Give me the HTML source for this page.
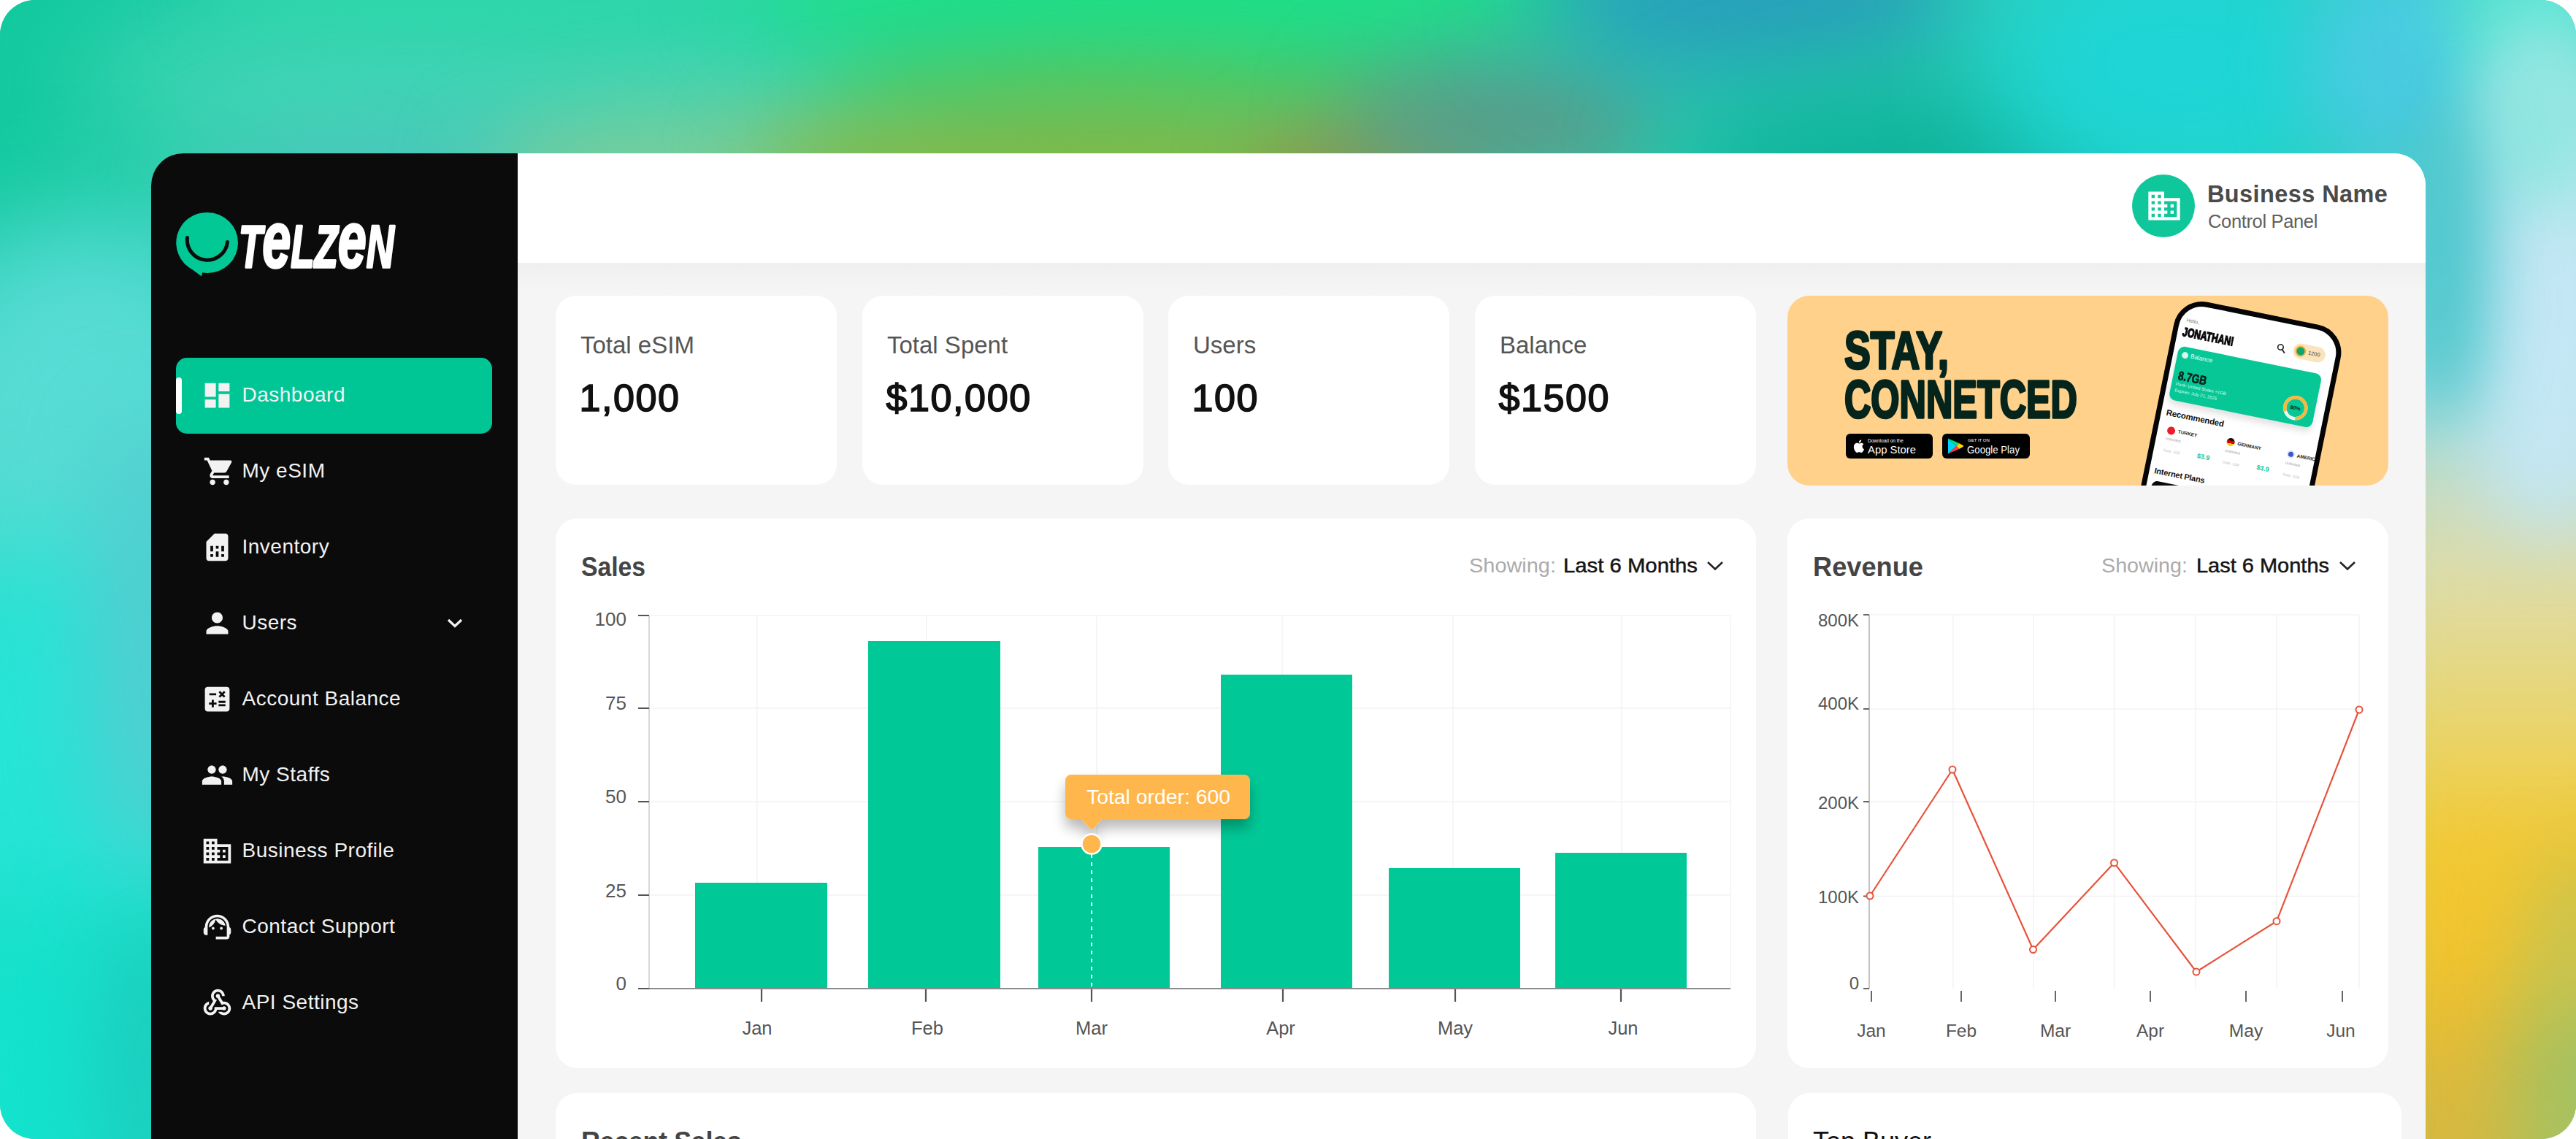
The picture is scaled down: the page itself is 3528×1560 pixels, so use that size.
<!DOCTYPE html>
<html lang="en">
<head>
<meta charset="utf-8">
<title>Telzen Dashboard</title>
<style>
*{box-sizing:border-box;margin:0;padding:0}
html,body{width:3528px;height:1560px;background:#fff;overflow:hidden}
body{font-family:"Liberation Sans",sans-serif;position:relative}
.abs{position:absolute}
/* ---------- mesh background ---------- */
#bg{position:absolute;left:0;top:0;width:3528px;height:1560px;border-radius:48px;overflow:hidden;background:#2fd0b4}
#bg i{position:absolute;display:block;border-radius:50%;filter:blur(90px)}
/* ---------- app window ---------- */
#app{position:absolute;left:207px;top:210px;width:3115px;height:1350px;border-radius:44px 44px 0 0;overflow:hidden;background:#f5f5f5}
#pg{position:absolute;left:-207px;top:-210px;width:3528px;height:1560px}
#side{position:absolute;left:207px;top:210px;width:502px;height:1350px;background:#0b0b0b}
#head{position:absolute;left:709px;top:210px;width:2613px;height:150px;background:#fff}
#headsh{position:absolute;left:709px;top:360px;width:2613px;height:40px;background:linear-gradient(#efefef,#f5f5f5)}
.card{position:absolute;background:#fff;border-radius:30px}
/* ---------- sidebar ---------- */
.nav{position:absolute;left:331.500px;font-size:28px;line-height:40px;color:#f2f2f2;white-space:nowrap;letter-spacing:.5px}
.ico{position:absolute;left:275px;width:45px;height:45px;fill:#f2f2f2}
#active{position:absolute;left:241px;top:490px;width:433px;height:104px;border-radius:15px;background:#00c696}
#active b{position:absolute;left:0;top:27px;width:8px;height:50px;border-radius:4px;background:#fff}
/* ---------- stat cards ---------- */
.stat{top:405px;width:385px;height:259px;border-radius:28px}
.stat .l{position:absolute;left:34px;top:47.500px;font-size:33px;line-height:40px;color:#555;letter-spacing:0;white-space:nowrap}
.stat .v{position:absolute;left:32.500px;top:109.500px;font-size:52px;line-height:60px;font-weight:400;color:#111;white-space:nowrap;letter-spacing:1.600px;-webkit-text-stroke:1.700px #111}
#phone{position:absolute;left:537px;top:1px;width:233px;height:420px;border:7px solid #050505;border-radius:39px;background:#fff;transform-origin:0 0;transform:rotate(11.500deg);overflow:hidden}
#phone *{position:absolute;white-space:nowrap}
/* ---------- chart cards ---------- */
.ttl{position:absolute;font-size:36px;line-height:44px;font-weight:700;color:#444;white-space:nowrap}
.show{position:absolute;font-size:28px;line-height:36px;white-space:nowrap;color:#111;letter-spacing:.4px}
.show span{color:#aaa}
svg text{font-family:"Liberation Sans",sans-serif}
</style>
</head>
<body>
<div id="bg">
<i style="left:-380px;top:-280px;width:760px;height:640px;background:#12c99e;filter:blur(80px)"></i>
<i style="left:100px;top:-40px;width:1200px;height:320px;background:#3fd5b4;filter:blur(80px)"></i>
<i style="left:280px;top:-70px;width:1040px;height:120px;background:#2cd6a8;filter:blur(45px)"></i>
<i style="left:260px;top:170px;width:600px;height:180px;background:#4cc6bc;filter:blur(60px)"></i>
<i style="left:-130px;top:300px;width:500px;height:600px;background:#58dcd5;filter:blur(80px)"></i>
<i style="left:-170px;top:740px;width:520px;height:600px;background:#27e5d6;filter:blur(80px)"></i>
<i style="left:-200px;top:1220px;width:520px;height:520px;background:#14e2cc;filter:blur(80px)"></i>
<i style="left:120px;top:560px;width:180px;height:640px;background:#52cdd0;filter:blur(60px)"></i>
<i style="left:130px;top:1260px;width:150px;height:400px;background:#1ccebe;filter:blur(50px)"></i>
<i style="left:660px;top:155px;width:680px;height:170px;background:#80cc98;filter:blur(60px)"></i>
<i style="left:1020px;top:-120px;width:1200px;height:220px;background:#1ee083;filter:blur(70px)"></i>
<i style="left:1120px;top:65px;width:860px;height:110px;background:#3ccf6a;filter:blur(50px)"></i>
<i style="left:1030px;top:130px;width:940px;height:210px;background:#82b844;filter:blur(60px)"></i>
<i style="left:1710px;top:170px;width:340px;height:140px;background:#8c9850;filter:blur(50px)"></i>
<i style="left:1840px;top:80px;width:440px;height:180px;background:#5a9c88;filter:blur(60px)"></i>
<i style="left:2100px;top:-130px;width:600px;height:240px;background:#289fba;filter:blur(70px)"></i>
<i style="left:2290px;top:110px;width:660px;height:240px;background:#0fb29a;filter:blur(70px)"></i>
<i style="left:2720px;top:-100px;width:520px;height:380px;background:#1fd5d5;filter:blur(70px)"></i>
<i style="left:3160px;top:-70px;width:260px;height:320px;background:#48cbe2;filter:blur(50px)"></i>
<i style="left:3360px;top:-100px;width:240px;height:240px;background:#62e6d6;filter:blur(50px)"></i>
<i style="left:3240px;top:230px;width:400px;height:1500px;border-radius:0;filter:blur(45px);background:linear-gradient(#52ccd4 0,#6fd2d6 180px,#a9dcd8 330px,#cfdcbc 470px,#dedca8 560px,#e9d56e 760px,#f2c832 930px,#f1c42f 1080px,#dfba3a 1230px,#d2b844 1400px)"></i>
<i style="left:3360px;top:70px;width:260px;height:660px;background:#c4e7f4;filter:blur(50px)"></i>
<i style="left:3400px;top:50px;width:160px;height:240px;background:#8fe6e0;filter:blur(45px)"></i>
<i style="left:3285px;top:140px;width:120px;height:440px;background:#4cc6cc;filter:blur(45px)"></i>
<i style="left:3440px;top:1300px;width:240px;height:400px;background:#a4c262;filter:blur(55px)"></i>
<i style="left:3470px;top:1160px;width:120px;height:240px;background:#c8c450;filter:blur(50px)"></i>
</div>
<div id="app"><div id="pg">
  <div id="side"></div>
  <div id="head"></div>
  <div id="headsh"></div>
  <svg class="abs" style="left:230px;top:280px" width="330" height="110" viewBox="230 280 330 110">
<path d="M284.500 291a41.500 41.500 0 0 1 0 83c-2.500 0-5-.2-7.400-.7l-1 5.200-13-9.500a41.500 41.500 0 0 1 21.400-78z" fill="#02c896"/>
<path d="M256.500 325.500a27.500 27.500 0 0 0 55 6" fill="none" stroke="#0b0b0b" stroke-width="5" stroke-linecap="round"/>
<text x="327" y="366" fill="#fff" font-weight="700" font-style="italic" textLength="213" lengthAdjust="spacingAndGlyphs" stroke="#fff" stroke-width="3.400" stroke-linejoin="round" font-size="82"><tspan>T</tspan><tspan font-size="109">e</tspan><tspan>LZ</tspan><tspan font-size="109">e</tspan><tspan>N</tspan></text>
</svg>
<div id="active"><b></b></div>
<svg class="ico" style="top:519px" viewBox="0 0 24 24"><path fill-rule="evenodd" d="M3 13h8V3H3v10zm0 8h8v-6H3v6zm10 0h8V11h-8v10zm0-18v6h8V3h-8z"/></svg>
<div class="nav" style="top:521px">Dashboard</div>
<svg class="ico" style="top:623px;left:277.500px" viewBox="0 0 24 24"><path fill-rule="evenodd" d="M7 18c-1.1 0-1.99.9-1.99 2S5.9 22 7 22s2-.9 2-2-.9-2-2-2zM1 2v2h2l3.6 7.59-1.35 2.45c-.16.28-.25.61-.25.96 0 1.1.9 2 2 2h12v-2H7.42c-.14 0-.25-.11-.25-.25l.03-.12.9-1.63h7.45c.75 0 1.41-.41 1.75-1.03l3.58-6.49c.08-.14.12-.31.12-.48 0-.55-.45-1-1-1H5.21l-.94-2H1zm16 16c-1.1 0-1.99.9-1.99 2s.89 2 1.99 2 2-.9 2-2-.9-2-2-2z"/></svg>
<div class="nav" style="top:625px">My eSIM</div>
<svg class="ico" style="top:727px" viewBox="0 0 24 24"><path fill-rule="evenodd" d="M19.99 4c0-1.1-.89-2-1.99-2h-8L4 8v12c0 1.1.9 2 2 2h12.01c1.1 0 1.99-.9 1.99-2l-.01-16zM9 19H7v-2h2v2zm8 0h-2v-2h2v2zm-8-4H7v-4h2v4zm4 4h-2v-4h2v4zm0-6h-2v-2h2v2zm4 2h-2v-4h2v4z"/></svg>
<div class="nav" style="top:729px">Inventory</div>
<svg class="ico" style="top:831px" viewBox="0 0 24 24"><path fill-rule="evenodd" d="M12 12c2.21 0 4-1.79 4-4s-1.79-4-4-4-4 1.79-4 4 1.79 4 4 4zm0 2c-2.67 0-8 1.34-8 4v2h16v-2c0-2.66-5.33-4-8-4z"/></svg>
<div class="nav" style="top:833px">Users</div>
<svg class="ico" style="top:935px" viewBox="0 0 24 24"><path fill-rule="evenodd" d="M19 3H5c-1.1 0-2 .9-2 2v14c0 1.1.9 2 2 2h14c1.1 0 2-.9 2-2V5c0-1.1-.9-2-2-2zm-5.97 4.06L14.09 6l1.41 1.41L16.91 6l1.06 1.06-1.41 1.41 1.41 1.41-1.06 1.06-1.41-1.4-1.41 1.41-1.06-1.06 1.41-1.41-1.41-1.42zm-6.78.66h5v1.5h-5v-1.5zM11.5 16h-2v2H8v-2H6v-1.5h2v-2h1.5v2h2V16zm6.500 1.25h-5v-1.5h5v1.500zm0-2.5h-5v-1.5h5v1.5z"/></svg>
<div class="nav" style="top:937px">Account Balance</div>
<svg class="ico" style="top:1039px" viewBox="0 0 24 24"><path fill-rule="evenodd" d="M16 11c1.660 0 2.990-1.340 2.990-3S17.660 5 16 5c-1.660 0-3 1.340-3 3s1.340 3 3 3zm-8 0c1.660 0 2.990-1.340 2.990-3S9.660 5 8 5C6.340 5 5 6.340 5 8s1.340 3 3 3zm0 2c-2.330 0-7 1.170-7 3.500V19h14v-2.500c0-2.330-4.670-3.500-7-3.500zm8 0c-.290 0-.620.020-.970.050 1.160.840 1.970 1.970 1.970 3.450V19h6v-2.500c0-2.330-4.670-3.500-7-3.500z"/></svg>
<div class="nav" style="top:1041px">My Staffs</div>
<svg class="ico" style="top:1143px" viewBox="0 0 24 24"><path fill-rule="evenodd" d="M12 7V3H2v18h20V7H12zM6 19H4v-2h2v2zm0-4H4v-2h2v2zm0-4H4V9h2v2zm0-4H4V5h2v2zm4 12H8v-2h2v2zm0-4H8v-2h2v2zm0-4H8V9h2v2zm0-4H8V5h2v2zm10 12h-8v-2h2v-2h-2v-2h2v-2h-2V9h8v10zm-2-8h-2v2h2v-2zm0 4h-2v2h2v-2z"/></svg>
<div class="nav" style="top:1145px">Business Profile</div>
<svg class="ico" style="top:1247px" viewBox="0 0 24 24"><path fill-rule="evenodd" d="M21 12.220C21 6.730 16.740 3 12 3c-4.690 0-9 3.650-9 9.280-.6.340-1 .980-1 1.720v2c0 1.100.9 2 2 2h1v-6.100c0-3.870 3.130-7 7-7s7 3.130 7 7V19h-8v2h8c1.100 0 2-.9 2-2v-1.220c.590-.310 1-.920 1-1.640v-2.300c0-.7-.410-1.310-1-1.620zM8 13a1 1 0 1 0 2 0 1 1 0 1 0-2 0zM14 13a1 1 0 1 0 2 0 1 1 0 1 0-2 0zM18 11.030C17.520 8.180 15.040 6 12.050 6c-3.030 0-6.290 2.510-6.030 6.450 2.470-1.010 4.330-3.210 4.860-5.890 1.310 2.630 4 4.440 7.120 4.470z"/></svg>
<div class="nav" style="top:1249px">Contact Support</div>
<svg class="ico" style="top:1351px" viewBox="0 0 24 24"><path fill-rule="evenodd" d="M10 15h5.880c.270-.310.670-.5 1.120-.5.830 0 1.500.670 1.500 1.500s-.670 1.500-1.500 1.500c-.440 0-.840-.190-1.120-.5H11.900c-.460 2.280-2.480 4-4.900 4-2.760 0-5-2.240-5-5 0-2.420 1.720-4.440 4-4.900v2.070C4.840 13.580 4 14.700 4 16c0 1.650 1.350 3 3 3s3-1.350 3-3v-1zm2.500-11c1.650 0 3 1.350 3 3h2c0-2.760-2.240-5-5-5s-5 2.240-5 5c0 1.430.6 2.710 1.550 3.620l-2.350 3.900c-.680.140-1.200.750-1.200 1.480 0 .830.670 1.500 1.500 1.500s1.500-.670 1.500-1.500c0-.160-.020-.310-.070-.450l3.380-5.630C10.490 9.610 9.500 8.420 9.500 7c0-1.650 1.350-3 3-3zm4.500 9c-.640 0-1.230.2-1.720.540l-3.050-5.070C11.530 8.350 11 7.740 11 7c0-.830.670-1.500 1.500-1.500S14 6.170 14 7c0 .150-.020.290-.060.430l2.190 3.650c.280-.050.570-.080.870-.080 2.760 0 5 2.240 5 5s-2.240 5-5 5c-1.850 0-3.470-1.010-4.330-2.500h2.670c.480.320 1.050.5 1.660.5 1.650 0 3-1.350 3-3s-1.350-3-3-3z"/></svg>
<div class="nav" style="top:1353px">API Settings</div>
<svg class="abs" style="left:610px;top:843px" width="26" height="20" viewBox="0 0 26 20"><path d="M4 6l9 8.500L22 6" fill="none" stroke="#f2f2f2" stroke-width="3.200"/></svg>
  <div class="abs" style="left:2920px;top:239px;width:86px;height:86px;border-radius:50%;background:#10c79b"></div>
<svg class="abs" style="left:2938px;top:256px;fill:#fff" width="52" height="52" viewBox="0 0 24 24"><path d="M12 7V3H2v18h20V7H12zM6 19H4v-2h2v2zm0-4H4v-2h2v2zm0-4H4V9h2v2zm0-4H4V5h2v2zm4 12H8v-2h2v2zm0-4H8v-2h2v2zm0-4H8V9h2v2zm0-4H8V5h2v2zm10 12h-8v-2h2v-2h-2v-2h2v-2h-2V9h8v10zm-2-8h-2v2h2v-2zm0 4h-2v2h2v-2z"/></svg>
<div class="abs" style="left:3023px;top:246px;font-size:32.500px;line-height:40px;font-weight:700;color:#4a4a4a;white-space:nowrap;letter-spacing:.4px">Business Name</div>
<div class="abs" style="left:3024px;top:287px;font-size:25.500px;line-height:32px;color:#606060;white-space:nowrap;letter-spacing:-.35px">Control Panel</div>
  <div class="card stat" style="left:761px"><div class="l">Total eSIM</div><div class="v">1,000</div></div>
<div class="card stat" style="left:1181px"><div class="l">Total Spent</div><div class="v">$10,000</div></div>
<div class="card stat" style="left:1600px"><div class="l">Users</div><div class="v">100</div></div>
<div class="card stat" style="left:2020px"><div class="l">Balance</div><div class="v">$1500</div></div>
  <div class="abs" id="banner" style="left:2448px;top:405px;width:823px;height:260px;border-radius:30px;background:#ffd18b;overflow:hidden">
<svg class="abs" style="left:0;top:0" width="823" height="260" viewBox="0 0 823 260">
<g fill="#04241c" stroke="#04241c" stroke-width="3.500" stroke-linejoin="round" font-weight="700" font-size="71.500">
<text x="78" y="100" textLength="143" lengthAdjust="spacingAndGlyphs">STAY,</text>
<text x="78" y="167" textLength="319" lengthAdjust="spacingAndGlyphs">CONNETCED</text>
</g>
<rect x="80" y="189" width="119" height="34" rx="6" fill="#000"/>
<rect x="212" y="189" width="120" height="34" rx="6" fill="#000"/>
<path transform="translate(88 195) scale(.92)" fill="#fff" d="M15.800 12.600c0-2.300 1.900-3.400 2-3.500-1.100-1.600-2.800-1.800-3.400-1.800-1.400-.1-2.800.9-3.500.9s-1.900-.8-3.100-.8c-1.600 0-3.100.9-3.900 2.400-1.700 2.900-.4 7.200 1.200 9.500.8 1.100 1.700 2.400 3 2.400 1.200 0 1.700-.8 3.100-.8s1.900.8 3.100.8c1.300 0 2.100-1.200 2.900-2.300.9-1.300 1.300-2.600 1.300-2.700-.1 0-2.700-1-2.700-4.100zM13.400 5.700c.6-.8 1.100-1.900 1-3-.9 0-2.100.6-2.800 1.400-.6.7-1.100 1.800-1 2.900 1.100.1 2.100-.5 2.800-1.300z"/>
<g fill="#fff">
<text x="110" y="201" font-size="6.500">Download on the</text>
<text x="110" y="216" font-size="14.500" textLength="66" lengthAdjust="spacingAndGlyphs">App Store</text>
<text x="247" y="200" font-size="6">GET IT ON</text>
<text x="246" y="216" font-size="14" textLength="72" lengthAdjust="spacingAndGlyphs">Google Play</text>
</g>
<path d="M220 195.500l11.500 10.500-11.500 10.500z" fill="#00d2ff"/>
<path d="M220 195.500l11.500 10.500 4-3.700z" fill="#00e676"/>
<path d="M220 216.500l11.500-10.500 4 3.700z" fill="#ff3d47"/>
<path d="M231.500 206l4-3.700 5 2.800c.9.500.9 1.300 0 1.800l-5 2.800z" fill="#ffd400"/>
</svg>
<div id="phone">
<span style="left:9px;top:19px;font-size:7px;color:#777">Hello,</span>
<span style="left:7px;top:30px;font-size:17px;font-weight:700;color:#0a0a0a;transform-origin:0 0;transform:scaleX(.72);-webkit-text-stroke:1.300px #0a0a0a">JONATHAN!</span>
<svg style="left:137px;top:28px" width="14" height="14" viewBox="0 0 14 14"><circle cx="5.500" cy="5.500" r="3.800" fill="none" stroke="#222" stroke-width="1.600"/><path d="M8.500 8.500l4 4" stroke="#222" stroke-width="1.800"/></svg>
<div style="left:160px;top:23px;width:45px;height:21px;border-radius:11px;background:#fbe3bb"></div>
<div style="left:163px;top:26px;width:15px;height:15px;border-radius:50%;background:#12a36f;border:2px solid #f0b63c"></div>
<span style="left:181px;top:29px;font-size:7.500px;color:#444">1200</span>
<div style="left:6px;top:59px;width:200px;height:75px;border-radius:9px;background:#08c796;box-shadow:0 6px 10px rgba(0,0,0,.12)"></div>
<div style="left:12px;top:66px;width:9px;height:9px;border-radius:50%;background:#d8f6ec"></div>
<span style="left:24px;top:65px;font-size:8.500px;color:#eafff8">Balance</span>
<span style="left:13px;top:90px;font-size:17px;font-weight:700;color:#06231b;transform-origin:0 0;transform:scaleX(.8);-webkit-text-stroke:.7px #06231b">8.7GB</span>
<span style="left:12px;top:108px;font-size:6px;color:#d4fff2">Pack: United States +1GB</span>
<span style="left:12px;top:117px;font-size:6px;color:#d4fff2">Expires: July 21, 2025</span>
<svg style="left:160px;top:92px" width="38" height="38" viewBox="0 0 38 38"><circle cx="19" cy="19" r="14.500" fill="none" stroke="#e9fbf5" stroke-width="4.500"/><circle cx="19" cy="19" r="14.500" fill="none" stroke="#f4b93e" stroke-width="4.500" stroke-dasharray="73 91" transform="rotate(150 19 19)"/><text x="19" y="21.500" font-size="7" font-weight="700" text-anchor="middle" fill="#06231b">80%</text></svg>
<span style="left:7px;top:146px;font-size:11.500px;font-weight:700;color:#111;letter-spacing:-.2px">Recommended</span>
<div style="left:13px;top:170px;width:11px;height:11px;border-radius:50%;background:#e81e2d"></div>
<span style="left:28px;top:171px;font-size:6.500px;font-weight:700;color:#222">TURKEY</span>
<span style="left:13px;top:184px;font-size:5px;color:#999">Unlimited</span>
<span style="left:13px;top:200px;font-size:5px;color:#bbb">Data: 1GB</span>
<span style="left:60px;top:197px;font-size:9px;font-weight:700;color:#10c79b">$3.9</span>
<div style="left:96px;top:169px;width:11px;height:11px;border-radius:50%;background:linear-gradient(#111 0 33%,#d00 33% 66%,#fc0 66%)"></div>
<span style="left:111px;top:171px;font-size:6.500px;font-weight:700;color:#222">GERMANY</span>
<span style="left:96px;top:184px;font-size:5px;color:#999">Unlimited</span>
<span style="left:96px;top:200px;font-size:5px;color:#bbb">Data: 1GB</span>
<span style="left:143px;top:196px;font-size:9px;font-weight:700;color:#10c79b">$3.9</span>
<div style="left:180px;top:169px;width:11px;height:11px;border-radius:50%;background:#3a58c8;border:2px solid #dfe6ff"></div>
<span style="left:194px;top:171px;font-size:6.500px;font-weight:700;color:#222">AMERICA</span>
<span style="left:180px;top:184px;font-size:5px;color:#999">Unlimited</span>
<span style="left:180px;top:200px;font-size:5px;color:#bbb">Data: 1GB</span>
<span style="left:7px;top:227px;font-size:11px;font-weight:700;color:#111;letter-spacing:-.2px">Internet Plans</span>
<div style="left:7px;top:247px;width:60px;height:40px;border-radius:8px;background:#0a0a0a"></div>
</div>
</div>
  <div class="card" style="left:761px;top:710px;width:1644px;height:753px"></div>
<svg class="abs" style="left:761px;top:710px;overflow:visible" width="1644" height="753" viewBox="761 710 1644 753">
<defs><filter id="tsh" x="-30%" y="-50%" width="160%" height="260%"><feGaussianBlur in="SourceAlpha" stdDeviation="9"/><feOffset dy="12"/><feComponentTransfer><feFuncA type="linear" slope=".28"/></feComponentTransfer><feMerge><feMergeNode/><feMergeNode in="SourceGraphic"/></feMerge></filter></defs>
<text x="796" y="788.700" font-size="36" font-weight="700" fill="#444" textLength="88" lengthAdjust="spacingAndGlyphs">Sales</text>
<text x="2012" y="784" font-size="28" fill="#ababab" textLength="119" lengthAdjust="spacingAndGlyphs">Showing:</text>
<text x="2141" y="784" font-size="28" fill="#151515" textLength="184" lengthAdjust="spacingAndGlyphs" stroke="#151515" stroke-width=".5">Last 6 Months</text>
<path d="M2339 770l10 9.500 10-9.500" fill="none" stroke="#222" stroke-width="2.600"/>
<path d="M889 843H2370M889 970H2370M889 1098H2370M889 1226H2370M1037 843V1354M1269 843V1354M1502 843V1354M1756 843V1354M1990 843V1354M2221 843V1354M2370 843V1354" stroke="#f3f3f3" stroke-width="1.500" fill="none"/>
<path d="M889 843V1354" stroke="#cfcfcf" stroke-width="1.600"/>
<rect x="952" y="1209" width="181" height="145" fill="#00c896"/>
<rect x="1189" y="878" width="181" height="476" fill="#00c896"/>
<rect x="1422" y="1160" width="180" height="194" fill="#00c896"/>
<rect x="1672" y="924" width="180" height="430" fill="#00c896"/>
<rect x="1902" y="1189" width="180" height="165" fill="#00c896"/>
<rect x="2130" y="1168" width="180" height="186" fill="#00c896"/>
<path d="M874 1354H2370" stroke="#8a8a8a" stroke-width="2"/>
<path d="M874 843H889M874 970H889M874 1098H889M874 1226H889M874 1354H889M1043 1355V1372M1268 1355V1372M1495 1355V1372M1757 1355V1372M1993 1355V1372M2220 1355V1372" stroke="#555" stroke-width="2.200" fill="none"/>
<g font-size="26" fill="#555" text-anchor="end">
<text x="858" y="857">100</text>
<text x="858" y="971.5">75</text>
<text x="858" y="1100">50</text>
<text x="858" y="1228.5">25</text>
<text x="858" y="1356">0</text>
</g><g font-size="25.500" fill="#555" text-anchor="middle">
<text x="1037" y="1417">Jan</text>
<text x="1270" y="1417">Feb</text>
<text x="1495" y="1417">Mar</text>
<text x="1754" y="1417">Apr</text>
<text x="1993" y="1417">May</text>
<text x="2223" y="1417">Jun</text>
</g>
<path d="M1495 1170V1353" stroke="#fff" stroke-width="2" stroke-dasharray="5 6"/>
<g filter="url(#tsh)"><path d="M1467 1061h237a8 8 0 0 1 8 8v45a8 8 0 0 1-8 8h-195l-14 15-14-15h-14a8 8 0 0 1-8-8v-45a8 8 0 0 1 8-8z" fill="#ffb74d"/></g>
<circle cx="1495" cy="1156" r="13.500" fill="#ffb74d" stroke="#fff" stroke-width="2.500"/>
<text x="1488" y="1100.500" font-size="27" fill="#fff" textLength="197" lengthAdjust="spacingAndGlyphs">Total order: 600</text>
</svg>
  <div class="card" style="left:2448px;top:710px;width:823px;height:753px"></div>
<svg class="abs" style="left:2448px;top:710px" width="823" height="753" viewBox="2448 710 823 753">
<text x="2483" y="788.500" font-size="36" font-weight="700" fill="#444" textLength="151" lengthAdjust="spacingAndGlyphs">Revenue</text>
<text x="2878" y="784" font-size="28" fill="#ababab" textLength="118" lengthAdjust="spacingAndGlyphs">Showing:</text>
<text x="3008" y="784" font-size="28" fill="#151515" textLength="182" lengthAdjust="spacingAndGlyphs" stroke="#151515" stroke-width=".5">Last 6 Months</text>
<path d="M3205 770l10 9.500 10-9.500" fill="none" stroke="#222" stroke-width="2.600"/>
<path d="M2560 842H3231M2560 971H3231M2560 1098H3231M2560 1227.5H3231M2675 842V1354M2785 842V1354M2895.5 842V1354M3007 842V1354M3118 842V1354M3231 842V1354" stroke="#f3f3f3" stroke-width="1.500" fill="none"/>
<path d="M2560 842V1354" stroke="#bdbdbd" stroke-width="1.800"/>
<path d="M2552 842H2560M2552 971H2560M2552 1098H2560M2552 1227.5H2560M2552 1354H2560M2563 1357V1372M2686 1357V1372M2815 1357V1372M2945 1357V1372M3076 1357V1372M3208 1357V1372" stroke="#666" stroke-width="2" fill="none"/>
<g font-size="24" fill="#555" text-anchor="end">
<text x="2546" y="858">800K</text>
<text x="2546" y="972">400K</text>
<text x="2546" y="1108">200K</text>
<text x="2546" y="1236.5">100K</text>
<text x="2546" y="1355">0</text>
</g><g font-size="24.500" fill="#555" text-anchor="middle">
<text x="2563" y="1419.500">Jan</text>
<text x="2686" y="1419.500">Feb</text>
<text x="2815" y="1419.500">Mar</text>
<text x="2945" y="1419.500">Apr</text>
<text x="3076" y="1419.500">May</text>
<text x="3206" y="1419.500">Jun</text>
</g>
<polyline points="2561,1227 2674,1054 2784.5,1300.5 2895.5,1181.7 3008,1331 3118,1261.7 3231,972" fill="none" stroke="#e8523a" stroke-width="2.200" stroke-linejoin="round"/>
<circle cx="2561" cy="1227" r="4.500" fill="#fff" stroke="#e8523a" stroke-width="2"/>
<circle cx="2674" cy="1054" r="4.500" fill="#fff" stroke="#e8523a" stroke-width="2"/>
<circle cx="2784.5" cy="1300.5" r="4.500" fill="#fff" stroke="#e8523a" stroke-width="2"/>
<circle cx="2895.5" cy="1181.7" r="4.500" fill="#fff" stroke="#e8523a" stroke-width="2"/>
<circle cx="3008" cy="1331" r="4.500" fill="#fff" stroke="#e8523a" stroke-width="2"/>
<circle cx="3118" cy="1261.7" r="4.500" fill="#fff" stroke="#e8523a" stroke-width="2"/>
<circle cx="3231" cy="972" r="4.500" fill="#fff" stroke="#e8523a" stroke-width="2"/>
</svg>
  <div class="card" style="left:761px;top:1497px;width:1644px;height:200px"><div class="ttl" style="left:35px;top:45px;letter-spacing:-.4px">Recent Sales</div></div>
<div class="card" style="left:2449px;top:1497px;width:840px;height:200px"><div class="ttl" style="left:34px;top:45px;font-weight:400;color:#111;font-size:36px">Top Buyer</div></div>
</div></div>
</body>
</html>
